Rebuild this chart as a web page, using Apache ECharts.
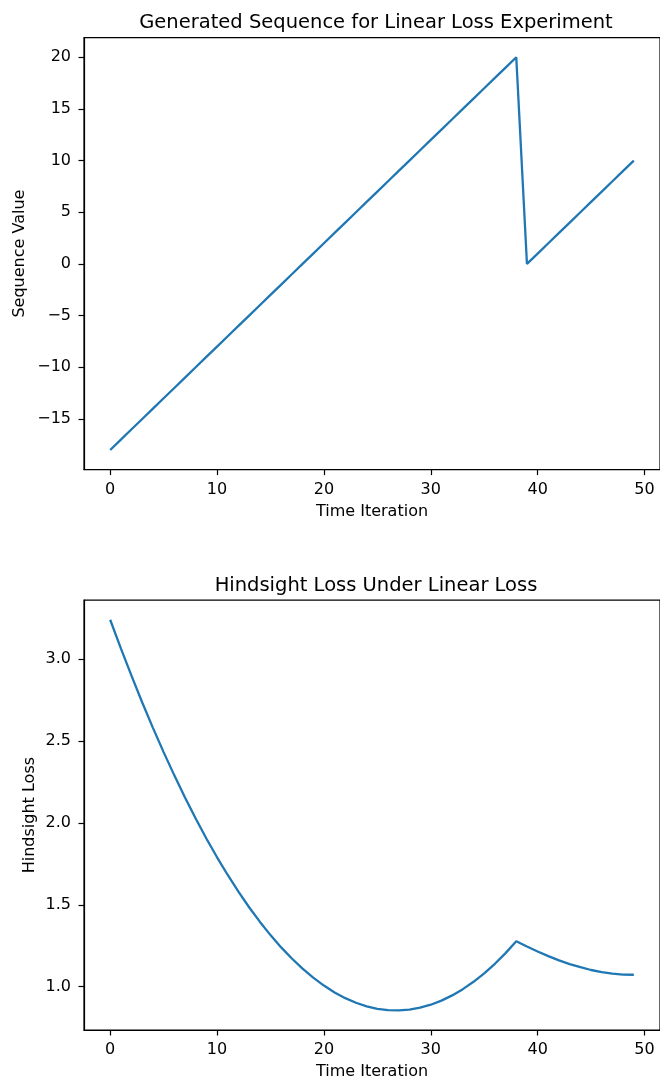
<!DOCTYPE html>
<html>
<head>
<meta charset="utf-8">
<script src="https://cdn.jsdelivr.net/npm/echarts@6/dist/echarts.min.js"></script>
<style>
  html, body { margin: 0; padding: 0; background: #fff; }
  #chart { width: 660px; height: 1081px; }
</style>
</head>
<body>
<div id="chart"></div>
<script>
// time steps shared by both panels
const iterations = [0, 1, 2, 3, 4, 5, 6, 7, 8, 9, 10, 11, 12, 13, 14, 15, 16, 17, 18, 19,
  20, 21, 22, 23, 24, 25, 26, 27, 28, 29, 30, 31, 32, 33, 34, 35, 36, 37, 38, 39,
  40, 41, 42, 43, 44, 45, 46, 47, 48, 49];

// top panel: generated sequence
const sequenceValues = [-18, -17, -16, -15, -14, -13, -12, -11, -10, -9, -8, -7, -6, -5, -4, -3, -2, -1, 0, 1,
  2, 3, 4, 5, 6, 7, 8, 9, 10, 11, 12, 13, 14, 15, 16, 17, 18, 19, 20, 0,
  1, 2, 3, 4, 5, 6, 7, 8, 9, 10];

// bottom panel: hindsight loss
const hindsightLoss = [3.240, 3.065, 2.897, 2.735, 2.580, 2.432, 2.290, 2.155, 2.027, 1.905,
  1.790, 1.682, 1.580, 1.485, 1.397, 1.315, 1.240, 1.172, 1.110, 1.055,
  1.007, 0.965, 0.930, 0.902, 0.880, 0.865, 0.857, 0.855, 0.860, 0.872,
  0.890, 0.915, 0.947, 0.985, 1.030, 1.082, 1.140, 1.205, 1.277, 1.245,
  1.215, 1.187, 1.161, 1.138, 1.119, 1.102, 1.089, 1.080, 1.074, 1.073];

const xTicks = [0, 10, 20, 30, 40, 50];
const seqTicks = [-15, -10, -5, 0, 5, 10, 15, 20];
const lossTicks = [1.0, 1.5, 2.0, 2.5, 3.0];

const FONT = 'DejaVu Sans';
const LINE_COLOR = '#1f77b4';

const pairs = (xs, ys) => xs.map((x, i) => [x, ys[i]]);
const minus = v => String(v).replace('-', '\u2212');

const xAxisFor = (gridIndex) => ({
  type: 'value',
  gridIndex: gridIndex,
  min: -2.45,
  max: 51.45,
  name: 'Time Iteration',
  nameLocation: 'middle',
  nameGap: 34,
  nameTextStyle: { fontFamily: FONT, fontSize: 16, color: '#000' },
  axisLine: { show: true, onZero: false, lineStyle: { color: '#000', width: 1.2 } },
  axisTick: { show: true, length: 5.5, customValues: xTicks, lineStyle: { color: '#000', width: 1.2 } },
  axisLabel: {
    customValues: xTicks,
    margin: 12,
    fontFamily: FONT, fontSize: 16, color: '#000'
  },
  splitLine: { show: false }
});

const chart = echarts.init(document.getElementById('chart'), null, { renderer: 'canvas' });

chart.setOption({
  animation: false,
  backgroundColor: '#fff',
  title: [
    {
      text: 'Generated Sequence for Linear Loss Experiment',
      left: 371, top: 8, textAlign: 'center',
      textStyle: { fontFamily: FONT, fontSize: 19.5, fontWeight: 'normal', color: '#000' }
    },
    {
      text: 'Hindsight Loss Under Linear Loss',
      left: 371, top: 571, textAlign: 'center',
      textStyle: { fontFamily: FONT, fontSize: 19.5, fontWeight: 'normal', color: '#000' }
    }
  ],
  grid: [
    { left: 84, top: 37.6, width: 581, height: 432, show: true, borderColor: '#000', borderWidth: 1.2, backgroundColor: 'transparent' },
    { left: 84, top: 600.2, width: 581, height: 434, show: true, borderColor: '#000', borderWidth: 1.2, backgroundColor: 'transparent' }
  ],
  xAxis: [xAxisFor(0), xAxisFor(1)],
  yAxis: [
    {
      type: 'value',
      gridIndex: 0,
      min: -19.9,
      max: 21.9,
      name: 'Sequence Value',
      nameLocation: 'middle',
      nameGap: 56,
      nameMoveOverlap: false,
      nameTextStyle: { fontFamily: FONT, fontSize: 16, color: '#000' },
      axisLine: { show: true, onZero: false, lineStyle: { color: '#000', width: 1.2 } },
      axisTick: { show: true, length: 5.5, customValues: seqTicks, lineStyle: { color: '#000', width: 1.2 } },
      axisLabel: {
        customValues: seqTicks,
        margin: 13,
        fontFamily: FONT, fontSize: 16, color: '#000',
        formatter: v => minus(v)
      },
      splitLine: { show: false }
    },
    {
      type: 'value',
      gridIndex: 1,
      min: 0.73575,
      max: 3.35925,
      name: 'Hindsight Loss',
      nameLocation: 'middle',
      nameGap: 46,
      nameMoveOverlap: false,
      nameTextStyle: { fontFamily: FONT, fontSize: 16, color: '#000' },
      axisLine: { show: true, onZero: false, lineStyle: { color: '#000', width: 1.2 } },
      axisTick: { show: true, length: 5.5, customValues: lossTicks, lineStyle: { color: '#000', width: 1.2 } },
      axisLabel: {
        customValues: lossTicks,
        margin: 13,
        fontFamily: FONT, fontSize: 16, color: '#000',
        formatter: v => Number(v).toFixed(1)
      },
      splitLine: { show: false }
    }
  ],
  series: [
    {
      type: 'line',
      xAxisIndex: 0,
      yAxisIndex: 0,
      data: pairs(iterations, sequenceValues),
      showSymbol: false,
      lineStyle: { color: LINE_COLOR, width: 2.3 }
    },
    {
      type: 'line',
      xAxisIndex: 1,
      yAxisIndex: 1,
      data: pairs(iterations, hindsightLoss),
      showSymbol: false,
      lineStyle: { color: LINE_COLOR, width: 2.3 }
    }
  ]
});
</script>
</body>
</html>
